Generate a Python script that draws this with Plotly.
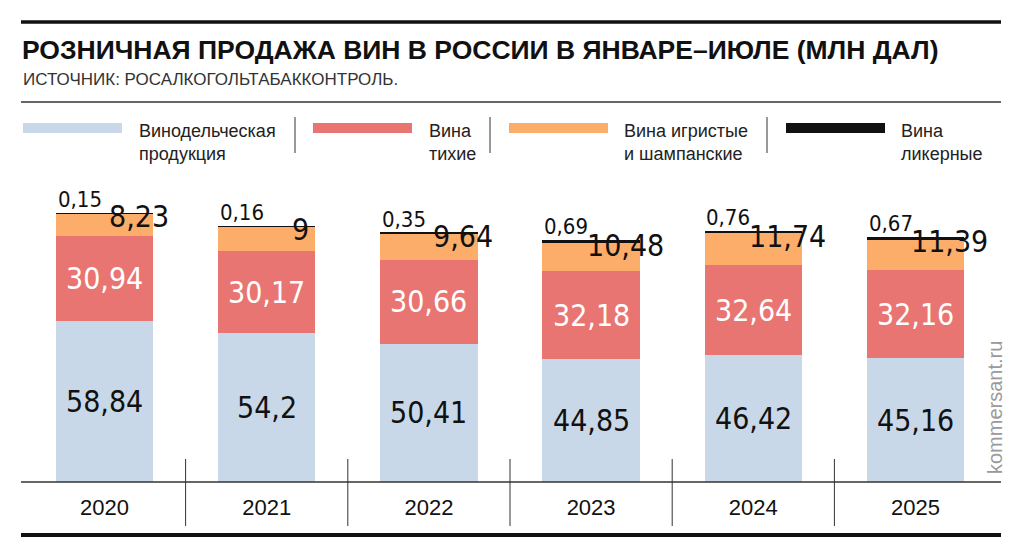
import plotly.graph_objects as go

# Розничная продажа вин в России, январь-июль, млн дал
years = ["2020", "2021", "2022", "2023", "2024", "2025"]
wine_products = [58.84, 54.2, 50.41, 44.85, 46.42, 45.16]   # винодельческая продукция
still_wines = [30.94, 30.17, 30.66, 32.18, 32.64, 32.16]     # вина тихие
sparkling = [8.23, 9, 9.64, 10.48, 11.74, 11.39]             # игристые и шампанские
liqueur = [0.15, 0.16, 0.35, 0.69, 0.76, 0.67]               # ликерные

C_BLUE = "#c9d8e8"
C_RED = "#e97572"
C_ORANGE = "#fcad6a"
C_BLACK = "#111111"
COND = "DejaVu Sans Condensed, Liberation Sans, sans-serif"
SANS = "Liberation Sans, Arial, sans-serif"

# страница имеет отступ 8px, поэтому фигура меньше окна
OFF = 8
W, H = 1024 - 2 * OFF, 557 - 2 * OFF


def fmt(v):
    return f"{v:g}".replace(".", ",")


def px(x):
    return (x - OFF) / W


def py(y):
    return 1 - (y - OFF) / H


fig = go.Figure()
for vals, col in [(wine_products, C_BLUE), (still_wines, C_RED),
                  (sparkling, C_ORANGE), (liqueur, C_BLACK)]:
    fig.add_trace(go.Bar(x=years, y=vals, marker=dict(color=col, line=dict(width=0)),
                         hoverinfo="skip", showlegend=False))

ann = []
for i in range(len(years)):
    b, r, o, l = wine_products[i], still_wines[i], sparkling[i], liqueur[i]
    ann.append(dict(xref="x", yref="y", x=i, y=b / 2, text=fmt(b), showarrow=False,
                    font=dict(family=COND, size=30, color="#111")))
    ann.append(dict(xref="x", yref="y", x=i, y=b + r / 2, text=fmt(r), showarrow=False,
                    font=dict(family=COND, size=30, color="white")))
    ann.append(dict(xref="x", yref="y", x=i, y=b + r + o, text=fmt(o), showarrow=False,
                    xanchor="center", xshift=34, yshift=-3,
                    font=dict(family=COND, size=30, color="#111")))
    ann.append(dict(xref="x", yref="y", x=i, y=b + r + o + l, text=fmt(l),
                    showarrow=False, xanchor="left", yanchor="bottom", xshift=-49,
                    yshift=-1, font=dict(family=COND, size=22, color="#111")))

# заголовок
ann.append(dict(xref="paper", yref="paper", x=px(20), y=py(50), xanchor="left",
                yanchor="middle", showarrow=False,
                text="<b>РОЗНИЧНАЯ ПРОДАЖА ВИН В РОССИИ В ЯНВАРЕ–ИЮЛЕ (МЛН ДАЛ)</b>",
                font=dict(family=SANS, size=26.5, color="#111")))
ann.append(dict(xref="paper", yref="paper", x=px(21), y=py(79), xanchor="left",
                yanchor="middle", showarrow=False,
                text="ИСТОЧНИК: РОСАЛКОГОЛЬТАБАККОНТРОЛЬ.",
                font=dict(family=SANS, size=17, color="#333")))
ann.append(dict(xref="paper", yref="paper", x=px(995), y=py(408), xanchor="center",
                yanchor="middle", showarrow=False, textangle=-90,
                text="kommersant.ru",
                font=dict(family=SANS, size=20, color="#9a9a9a")))

# легенда
legend_items = [
    (23, 122, 137, "Винодельческая<br>продукция", C_BLUE),
    (313, 412, 427, "Вина<br>тихие", C_RED),
    (509, 608, 622, "Вина игристые<br>и шампанские", C_ORANGE),
    (786, 885, 899, "Вина<br>ликерные", C_BLACK),
]
shapes = []
for x0, x1, tx, label, col in legend_items:
    shapes.append(dict(type="rect", xref="paper", yref="paper", x0=px(x0), x1=px(x1),
                       y0=py(133), y1=py(123), fillcolor=col, line=dict(width=0)))
    ann.append(dict(xref="paper", yref="paper", x=px(tx), y=py(119), xanchor="left",
                    yanchor="top", align="left", showarrow=False, text=label,
                    font=dict(family=SANS, size=18, color="#222")))
for sx in [295, 490, 767]:
    shapes.append(dict(type="line", xref="paper", yref="paper", x0=px(sx), x1=px(sx),
                       y0=py(153), y1=py(117), line=dict(color="#333", width=1)))

# линии оформления
shapes += [
    dict(type="line", xref="paper", yref="paper", x0=px(21), x1=px(1001),
         y0=py(22), y1=py(22), line=dict(color="#111", width=3.5)),
    dict(type="line", xref="paper", yref="paper", x0=px(21), x1=px(1001),
         y0=py(102), y1=py(102), line=dict(color="#333", width=1.3)),
    dict(type="line", xref="paper", yref="paper", x0=px(21), x1=px(1001),
         y0=py(482), y1=py(482), line=dict(color="#333", width=1.5)),
    dict(type="line", xref="paper", yref="paper", x0=px(21), x1=px(1001),
         y0=py(535), y1=py(535), line=dict(color="#111", width=4)),
]
for k in range(1, len(years)):
    shapes.append(dict(type="line", xref="x", yref="paper", x0=k - 0.5, x1=k - 0.5,
                       y0=py(526), y1=py(459), line=dict(color="#333", width=1)))

fig.update_layout(
    width=W, height=H, barmode="stack", bargap=0.4,
    margin=dict(l=0, r=0, t=0, b=0),
    paper_bgcolor="white", plot_bgcolor="white",
    xaxis=dict(domain=[px(23.4), px(996.6)], range=[-0.5, 5.5], type="category",
               showgrid=False, showline=False, zeroline=False, ticks="",
               ticklabelstandoff=10,
               tickfont=dict(family=SANS, size=22, color="#111"), fixedrange=True),
    yaxis=dict(domain=[py(482), py(180.6)], range=[0, 110], showgrid=False,
               zeroline=False, showline=False, showticklabels=False, ticks="",
               fixedrange=True),
    annotations=ann, shapes=shapes,
)

fig.write_html("out.html")
